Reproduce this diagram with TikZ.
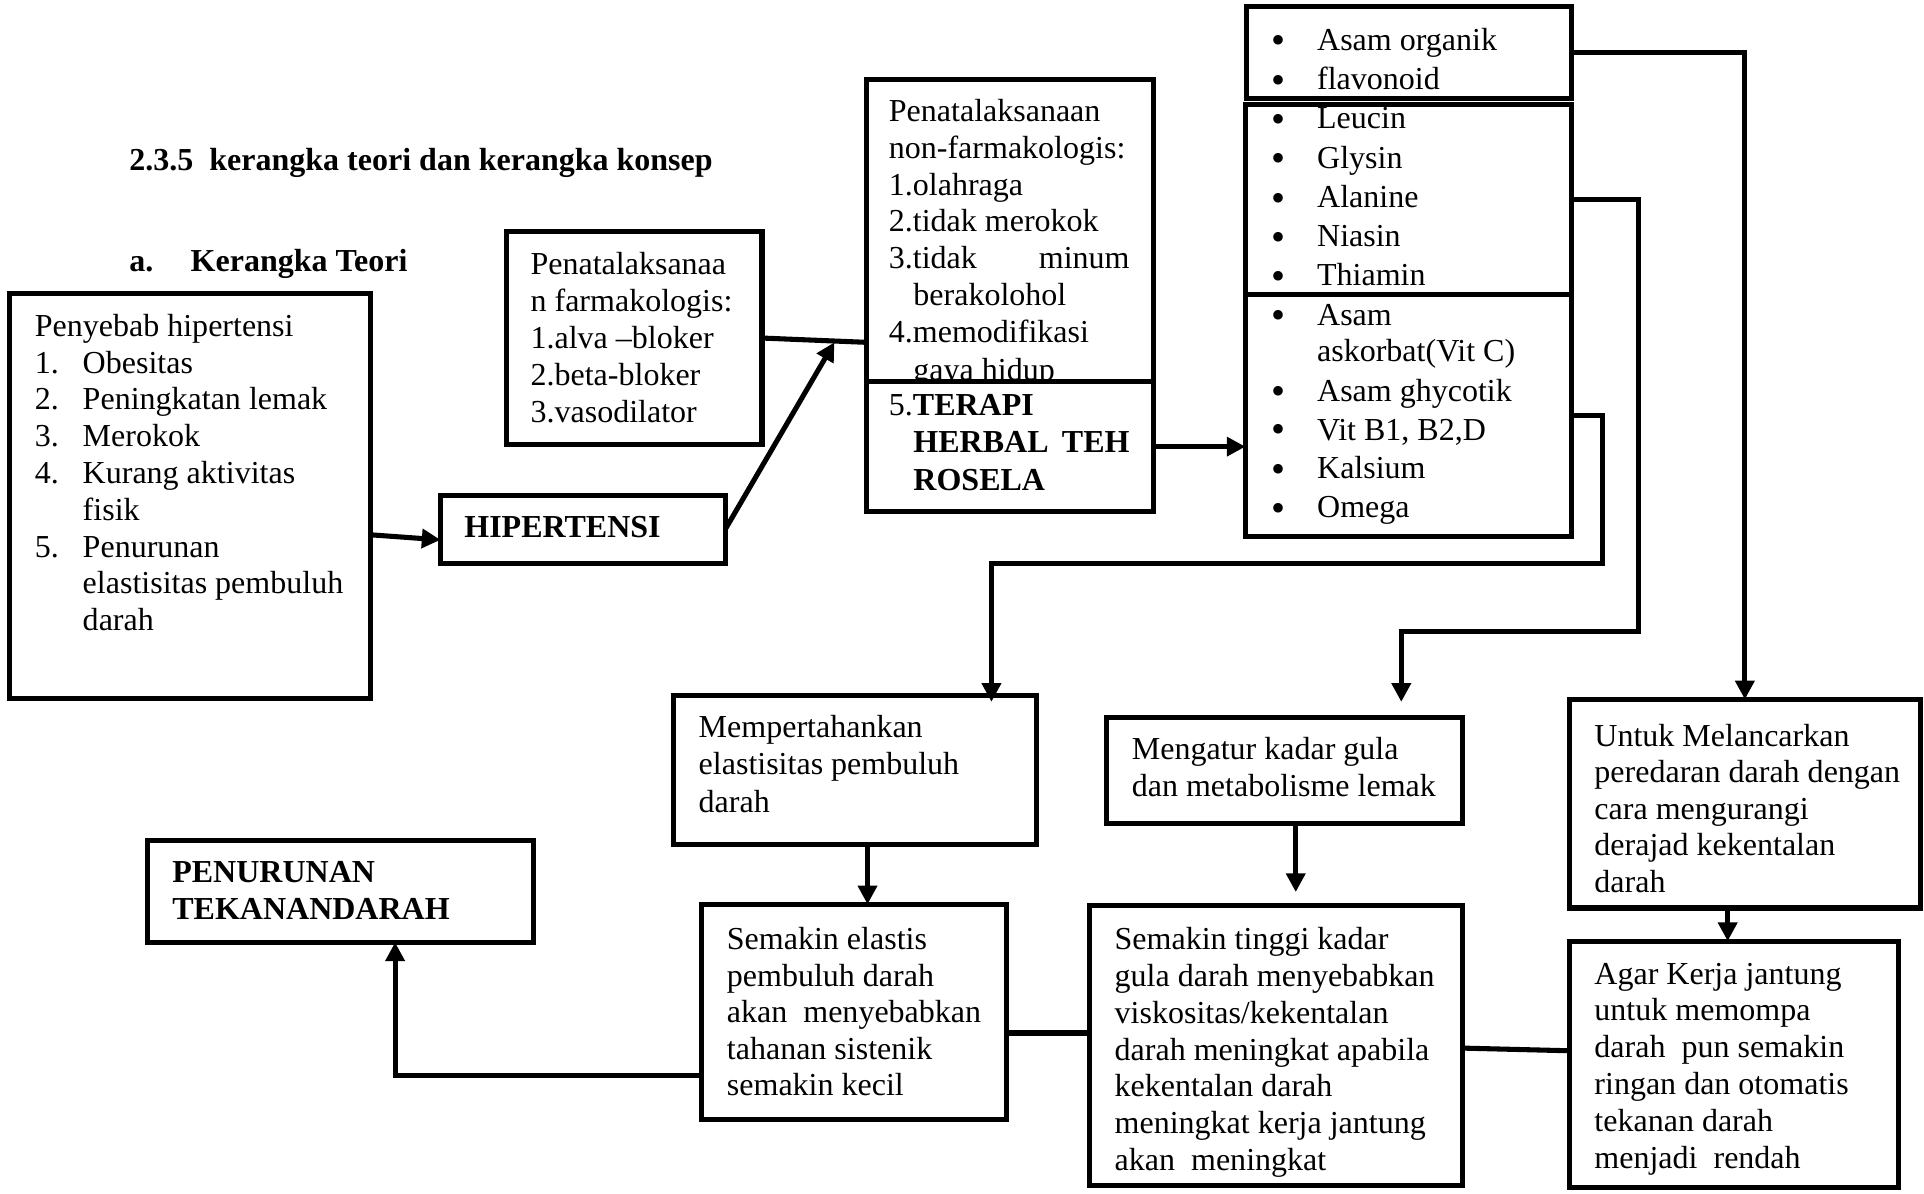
\documentclass[tikz,border=0pt]{standalone}
\usepackage{fontspec}
\setmainfont{Liberation Serif}
\usetikzlibrary{arrows.meta}
\newcommand\mybox[6][]{\node[box,#1,minimum width={(#4-#2)*0.46pt},minimum height={(#5-#3)*0.46pt}] (#6) at (#2,#3) {};}
\newcommand\txtlines[5]{\foreach \t [count=\i from 0] in {#5} {\node[txt] (#1\i) at (#2,{#3+\i*#4}) {\t};}}
\begin{document}
\begin{tikzpicture}[x=0.46pt,y=-0.46pt,
  box/.style={draw,line width=1.9pt,rectangle,inner sep=0pt,outer sep=0pt,anchor=north west},
  txt/.style={anchor=base west,inner sep=0pt,font=\fontsize{12}{13.8}\selectfont},
  txtr/.style={anchor=base east,inner sep=0pt,font=\fontsize{12}{13.8}\selectfont},
  btxt/.style={anchor=base west,inner sep=0pt,font=\fontsize{12}{13.8}\selectfont\bfseries},
  btxtr/.style={anchor=base east,inner sep=0pt,font=\fontsize{12}{13.8}\selectfont\bfseries},
  bul/.style={anchor=base west,inner sep=0pt,font=\fontsize{15}{15}\selectfont},
  conn/.style={line width=1.9pt},
  arr/.style={line width=1.9pt,-{Triangle[width=7pt,length=7pt]}}]
\useasboundingbox (0,0) rectangle (1568,973);

% headings
\node[btxt] (title) at (105,139) {2.3.5\ \ kerangka teori dan kerangka konsep};
\node[btxt] (suba) at (105,221) {a.};
\node[btxt] (subt) at (155,221) {Kerangka Teori};

% Penyebab hipertensi
\mybox{8}{239}{302}{569}{pen}
\node[txt] (pen0) at (28,274) {Penyebab hipertensi};
\txtlines{pnum}{28}{304}{30}{1.,2.,3.,4.}
\node[txt] (pnum4) at (28,454) {5.};
\txtlines{pit}{67}{304}{30}{Obesitas,Peningkatan lemak,Merokok,Kurang aktivitas,fisik,Penurunan,elastisitas pembuluh,darah}

% HIPERTENSI
\mybox{359}{404}{591}{459}{hip}
\node[btxt] (hipt) at (378,438) {HIPERTENSI};

% farmakologis
\mybox{413}{189}{621}{362}{farm}
\txtlines{ft}{432}{224}{30}{Penatalaksanaa,n farmakologis:,1.alva –bloker,2.beta-bloker,3.vasodilator}

% non-farmakologis
\mybox{706}{65}{940}{311}{nf}
\txtlines{nft}{724}{99}{30}{Penatalaksanaan,non-farmakologis:,1.olahraga,2.tidak merokok,3.tidak}
\node[txtr] (nfmin) at (921,219) {minum};
\node[txt] (nfber) at (744,249) {berakolohol};
\node[txt] (nfmod) at (724,279) {4.memodifikasi};
\node[txt] (nfgaya) at (744,310) {gaya hidup};

% TERAPI
\mybox[fill=white]{706}{311}{940}{417}{ter}
\node[txt] (ter1) at (724,339) {5.\textbf{TERAPI}};
\node[btxt] (ter2) at (744,369) {HERBAL};
\node[btxtr] (ter3) at (921,369) {TEH};
\node[btxt] (ter4) at (744,400) {ROSELA};

% list boxes
\mybox{1016}{5}{1281}{80}{la}
\mybox{1015}{85}{1281}{240}{lb}
\mybox{1015}{240}{1281}{437}{lc}
\foreach \yy [count=\k] in {44,76,108,140,172,204,236,268,330,361,393,425}
  {\node[bul] (bul\k) at (1036,\yy) {•};}
\txtlines{lat}{1073}{41}{32}{Asam organik,flavonoid,Leucin,Glysin,Alanine,Niasin,Thiamin,Asam}
\node[txt] (lask) at (1073,295) {askorbat(Vit C)};
\txtlines{lct}{1073}{327}{31.6}{Asam ghycotik,{Vit B1, B2,D},Kalsium,Omega}

% lower boxes
\mybox{549}{567}{845}{688}{mp}
\txtlines{mpt}{569}{601}{30.5}{Mempertahankan,elastisitas pembuluh,darah}

\mybox{572}{737}{820}{912}{se}
\txtlines{set}{592}{774}{29.8}{Semakin elastis,pembuluh darah,akan\ \ menyebabkan,tahanan sistenik,semakin kecil}

\mybox{902}{585}{1192}{671}{meng}
\txtlines{mgt}{922}{619}{30}{Mengatur kadar gula,dan metabolisme lemak}

\mybox{888}{738}{1192}{966}{st}
\begin{scope}
\clip (888,738) rectangle (1192,964);
\txtlines{stt}{908}{774}{30}{Semakin tinggi kadar,gula darah menyebabkan,viskositas/kekentalan,darah meningkat apabila,kekentalan darah,meningkat kerja jantung,akan\ \ meningkat}
\end{scope}

\mybox{1279}{570}{1565}{740}{un}
\txtlines{unt}{1299}{608}{29.8}{Untuk Melancarkan,peredaran darah dengan,cara mengurangi,derajad kekentalan,darah}

\mybox{1279}{767}{1547}{968}{ag}
\txtlines{agt}{1299}{802}{30}{Agar Kerja jantung,untuk memompa,darah\ \ pun semakin,ringan dan otomatis,tekanan darah,menjadi\ \ rendah}

\mybox{120}{685}{435}{768}{pt}
\node[btxt] (ptt1) at (140,719) {PENURUNAN};
\node[btxt] (ptt2) at (140,749) {TEKANANDARAH};

% connector end points
\coordinate (jn) at (680,279);
\coordinate (mpin) at (808,572);
\coordinate (mgin) at (1142,572);
\coordinate (ptin) at (322,768);
\coordinate (stin) at (1056,727);

% connectors
\draw[arr] ([yshift=-2pt]pen.east |- hip.west) -- ([yshift=-3.9pt]hip.west);
\draw[arr] (hip.east) -- (jn);
\draw[conn] (farm.east) -- (nf.west |- jn);
\draw[arr] (ter.east) -- (lc.west |- ter.east);
\draw[arr] (la.east) -| (un.north);
\draw[arr] (lb.east) -| (1335,515) -| (mgin);
\draw[arr] (lc.east) -| (1306,459) -| (mpin);
\draw[arr] (mp.south -| 707,0) -- (se.north -| 707,0);
\draw[arr] (meng.south -| stin) -- (stin);
\draw[conn] ([yshift=-8pt]se.east) -- ([yshift=-8pt]se.east -| st.west);
\draw[conn] ([yshift=-1pt]st.east) -- ([yshift=-2pt]st.east -| ag.west);
\draw[arr] (un.south -| 1408,0) -- (ag.north -| 1408,0);
\draw[arr] ([yshift=-24pt]se.west) -| (ptin);
\end{tikzpicture}
\end{document}
